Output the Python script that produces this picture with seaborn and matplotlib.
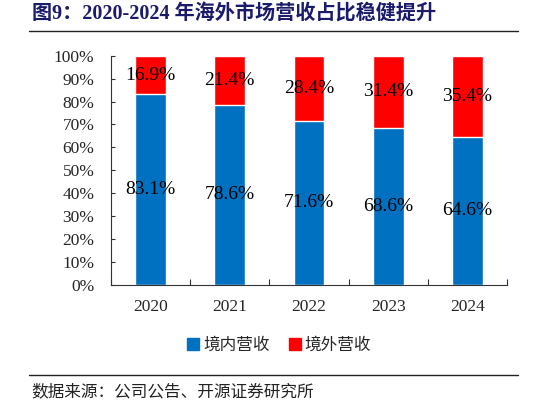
import matplotlib
matplotlib.use("Agg")
import matplotlib.pyplot as plt
import seaborn as sns
import pandas as pd
from matplotlib.lines import Line2D
from matplotlib.ticker import FixedLocator, PercentFormatter

years = ["2020", "2021", "2022", "2023", "2024"]
domestic = [83.1, 78.6, 71.6, 68.6, 64.6]
overseas = [16.9, 21.4, 28.4, 31.4, 35.4]
y_ticks = [0, 10, 20, 30, 40, 50, 60, 70, 80, 90, 100]

BLUE = "#0070C0"
RED = "#FF0000"
NAVY = "#1B1B6B"

sns.set_theme(style="white")
plt.rcParams["font.family"] = ["Liberation Serif", "Noto Sans CJK SC"]

df = pd.DataFrame({"year": years, "domestic": domestic, "overseas": overseas})
df["total"] = df["domestic"] + df["overseas"]

fig = plt.figure(figsize=(5.46, 4.05), dpi=100)
ax = fig.add_axes([111 / 546, 1 - 285 / 405, 396 / 546, (285 - 55.7) / 405])

sns.barplot(data=df, x="year", y="total", color=RED, saturation=1, width=0.39, ax=ax)
sns.barplot(data=df, x="year", y="domestic", color=BLUE, saturation=1, width=0.39, ax=ax)

for i, (d, o) in enumerate(zip(domestic, overseas)):
    ax.text(i, d / 2, f"{d:.1f}%", ha="center", va="center", fontsize=14, color="black")
    ax.text(i, d + o / 2, f"{o:.1f}%", ha="center", va="center", fontsize=14, color="black")

ax.set_xlim(-0.5, 4.5)
ax.set_ylim(0, 100)
ax.set_yticks(y_ticks)
ax.yaxis.set_major_formatter(PercentFormatter(decimals=0))
ax.set_xlabel("")
ax.set_ylabel("")
ax.xaxis.set_minor_locator(FixedLocator([i - 0.5 for i in range(len(years) + 1)]))
ax.tick_params(axis="x", which="major", length=0, pad=10, labelsize=12.5)
ax.tick_params(axis="x", which="minor", direction="in", length=4, width=0.8, color="#333333", bottom=True)
ax.tick_params(axis="y", which="major", direction="in", length=3, width=0.8, color="#333333", pad=12, labelsize=12.5, left=True)
for s in ["top", "right"]:
    ax.spines[s].set_visible(False)
for s in ["left", "bottom"]:
    ax.spines[s].set_color("#333333")
    ax.spines[s].set_linewidth(0.8)

handles = [
    Line2D([], [], marker="s", linestyle="none", markersize=8, color=BLUE, label="境内营收"),
    Line2D([], [], marker="s", linestyle="none", markersize=8, color=RED, label="境外营收"),
]
fig.legend(handles=handles, loc="center", bbox_to_anchor=(278 / 546, 1 - 345 / 405), ncol=2,
           frameon=False, handletextpad=0.1, columnspacing=1.0, handlelength=1.0,
           prop={"family": ["Noto Sans CJK SC"], "size": 12})

fig.text(32 / 546, 1 - 15 / 405, "图9：2020-2024 年海外市场营收占比稳健提升", fontsize=14.5,
         fontweight="bold", color=NAVY, ha="left", va="center",
         family=["Liberation Serif", "Noto Sans CJK SC"])
fig.add_artist(Line2D([29 / 546, 518 / 546], [1 - 31 / 405, 1 - 31 / 405], color="#222222", lw=1,
                      transform=fig.transFigure))
fig.add_artist(Line2D([29 / 546, 518 / 546], [1 - 375 / 405, 1 - 375 / 405], color="#222222", lw=1,
                      transform=fig.transFigure))
fig.text(31 / 546, 1 - 392 / 405, "数据来源：公司公告、开源证券研究所", fontsize=12, color="#222222",
         ha="left", va="center", family=["Noto Sans CJK SC"])

fig.savefig("out.png", dpi=100)
